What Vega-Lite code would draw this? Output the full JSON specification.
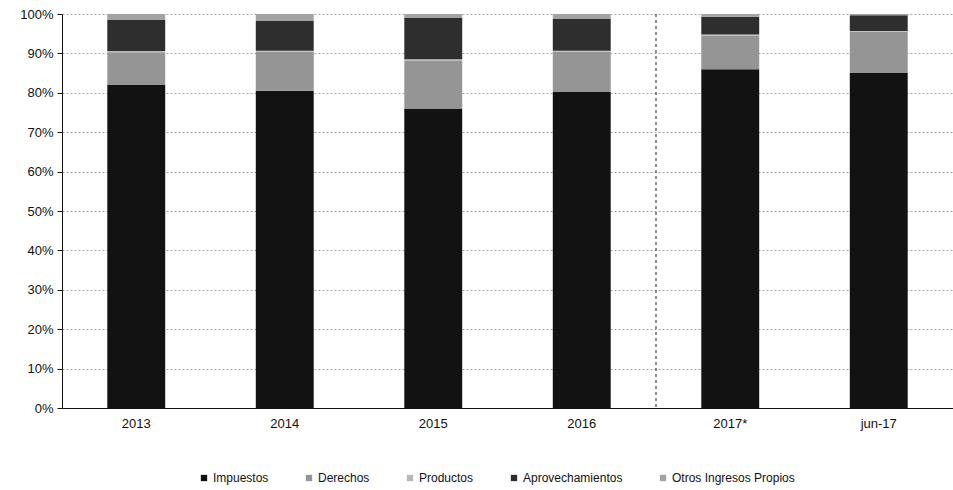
{
  "$schema": "https://vega.github.io/schema/vega-lite/v6.json",
  "autosize": "none",
  "width": 891,
  "height": 394,
  "padding": {"left": 62, "top": 14, "right": 0, "bottom": 82},
  "background": "white",
  "config": {
    "font": "Liberation Sans",
    "view": {"stroke": null}
  },
  "data": {
    "values": [
      {"anio": "2013", "concepto": "Impuestos", "orden": 1, "valor": 82.0},
      {"anio": "2013", "concepto": "Derechos", "orden": 2, "valor": 8.3},
      {"anio": "2013", "concepto": "Productos", "orden": 3, "valor": 0.3},
      {"anio": "2013", "concepto": "Aprovechamientos", "orden": 4, "valor": 7.9},
      {"anio": "2013", "concepto": "Otros Ingresos Propios", "orden": 5, "valor": 1.5},
      {"anio": "2014", "concepto": "Impuestos", "orden": 1, "valor": 80.5},
      {"anio": "2014", "concepto": "Derechos", "orden": 2, "valor": 9.9},
      {"anio": "2014", "concepto": "Productos", "orden": 3, "valor": 0.3},
      {"anio": "2014", "concepto": "Aprovechamientos", "orden": 4, "valor": 7.5},
      {"anio": "2014", "concepto": "Otros Ingresos Propios", "orden": 5, "valor": 1.8},
      {"anio": "2015", "concepto": "Impuestos", "orden": 1, "valor": 76.0},
      {"anio": "2015", "concepto": "Derechos", "orden": 2, "valor": 12.2},
      {"anio": "2015", "concepto": "Productos", "orden": 3, "valor": 0.3},
      {"anio": "2015", "concepto": "Aprovechamientos", "orden": 4, "valor": 10.5},
      {"anio": "2015", "concepto": "Otros Ingresos Propios", "orden": 5, "valor": 1.0},
      {"anio": "2016", "concepto": "Impuestos", "orden": 1, "valor": 80.2},
      {"anio": "2016", "concepto": "Derechos", "orden": 2, "valor": 10.2},
      {"anio": "2016", "concepto": "Productos", "orden": 3, "valor": 0.3},
      {"anio": "2016", "concepto": "Aprovechamientos", "orden": 4, "valor": 8.0},
      {"anio": "2016", "concepto": "Otros Ingresos Propios", "orden": 5, "valor": 1.3},
      {"anio": "2017*", "concepto": "Impuestos", "orden": 1, "valor": 86.0},
      {"anio": "2017*", "concepto": "Derechos", "orden": 2, "valor": 8.5},
      {"anio": "2017*", "concepto": "Productos", "orden": 3, "valor": 0.3},
      {"anio": "2017*", "concepto": "Aprovechamientos", "orden": 4, "valor": 4.5},
      {"anio": "2017*", "concepto": "Otros Ingresos Propios", "orden": 5, "valor": 0.7},
      {"anio": "jun-17", "concepto": "Impuestos", "orden": 1, "valor": 85.0},
      {"anio": "jun-17", "concepto": "Derechos", "orden": 2, "valor": 10.5},
      {"anio": "jun-17", "concepto": "Productos", "orden": 3, "valor": 0.2},
      {"anio": "jun-17", "concepto": "Aprovechamientos", "orden": 4, "valor": 4.0},
      {"anio": "jun-17", "concepto": "Otros Ingresos Propios", "orden": 5, "valor": 0.3}
    ]
  },
  "layer": [
    {
      "mark": {"type": "bar", "width": {"band": 0.39}},
      "encoding": {
        "x": {
          "field": "anio", "type": "nominal", "sort": null,
          "scale": {"paddingInner": 0, "paddingOuter": 0},
          "axis": {
            "title": null, "labelAngle": 0, "labelFontSize": 13, "labelColor": "#111",
            "domainColor": "#111", "ticks": false, "labelPadding": 9
          }
        },
        "y": {
          "field": "valor", "type": "quantitative", "stack": "normalize",
          "scale": {"domain": [0, 1], "nice": false},
          "axis": {
            "title": null, "format": ".0%", "values": [0, 0.1, 0.2, 0.3, 0.4, 0.5, 0.6, 0.7, 0.8, 0.9, 1],
            "labelFontSize": 13, "labelColor": "#111", "domainColor": "#111",
            "tickColor": "#111", "tickSize": 5, "labelPadding": 4,
            "gridColor": "#8a8a8a", "gridDash": [2, 2], "gridWidth": 0.8
          }
        },
        "color": {
          "field": "concepto", "type": "nominal",
          "scale": {
            "domain": ["Impuestos", "Derechos", "Productos", "Aprovechamientos", "Otros Ingresos Propios"],
            "range": ["#121212", "#959595", "#b8b8b8", "#2e2e2e", "#a3a3a3"]
          },
          "legend": {
            "title": null, "orient": "none", "direction": "horizontal",
            "legendX": 136, "legendY": 458,
            "symbolType": "square", "symbolSize": 40, "labelFontSize": 12,
            "labelColor": "#111", "columnPadding": 34, "symbolStrokeWidth": 0,
            "labelOffset": 3
          }
        },
        "order": {"field": "orden", "type": "quantitative", "sort": "ascending"}
      }
    },
    {
      "data": {"values": [{"anio": "2017*"}]},
      "mark": {"type": "rule", "color": "#444", "strokeDash": [3, 3], "strokeWidth": 1.2},
      "encoding": {
        "x": {"field": "anio", "type": "nominal", "bandPosition": 0}
      }
    }
  ]
}
